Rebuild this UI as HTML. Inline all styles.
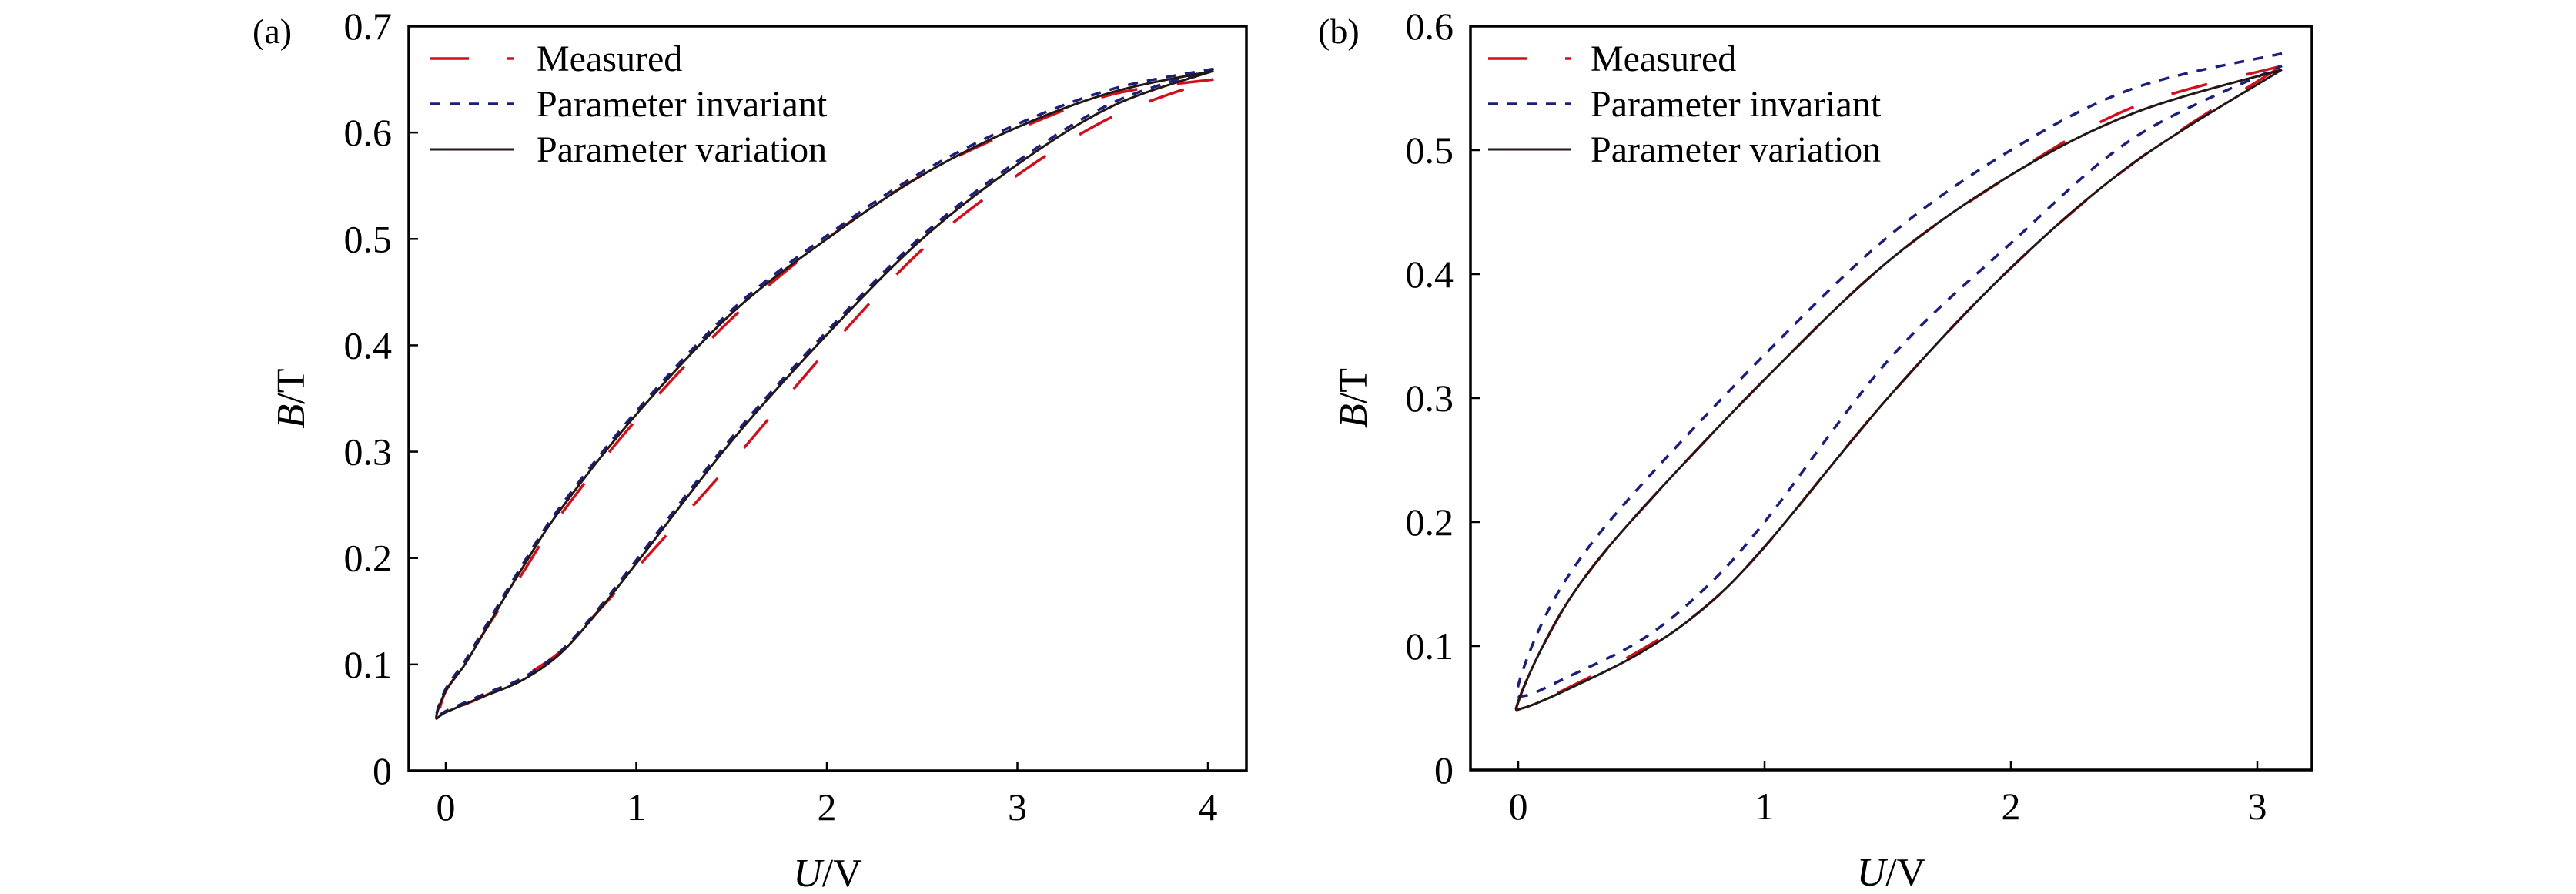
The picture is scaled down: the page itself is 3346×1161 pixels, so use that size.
<!DOCTYPE html>
<html><head><meta charset="utf-8"><style>
html,body{margin:0;padding:0;background:#fff;}
svg{display:block;}
text{font-family:"Liberation Serif",serif;fill:#000;}
</style></head><body>
<svg id="chart" width="3346" height="1161" viewBox="0 0 3346 1161"></svg>
<script>
// ---- Panel (a) data ----
const aTicksX = [0,1,2,3,4];
const aTicksY = [0,0.1,0.2,0.3,0.4,0.5,0.6,0.7];
const aVarU = [4.03,3.5,3.0,2.5,2.0,1.5,1.0,0.6,0.4,0.2,0.1,0.0,-0.05,0.0,0.2,0.4,0.6,0.8,1.0,1.5,2.0,2.5,3.0,3.5,4.03];
const aVarB = [0.658,0.638,0.605,0.56,0.50,0.43,0.335,0.245,0.19,0.13,0.10,0.075,0.05,0.055,0.07,0.085,0.11,0.15,0.195,0.31,0.41,0.50,0.57,0.625,0.658];
const aInvU = [4.03,3.5,3.0,2.5,2.0,1.5,1.0,0.6,0.4,0.2,0.1,0.0,-0.05,0.0,0.2,0.4,0.6,0.8,1.0,1.5,2.0,2.5,3.0,3.5,4.03];
const aInvB = [0.66,0.641,0.608,0.563,0.503,0.433,0.338,0.248,0.193,0.133,0.103,0.077,0.051,0.056,0.072,0.087,0.112,0.152,0.198,0.313,0.413,0.503,0.573,0.628,0.66];
const aMeaU = [4.03,3.5,3.0,2.5,2.0,1.5,1.0,0.6,0.4,0.2,0.1,0.0,-0.04,0.0,0.2,0.4,0.6,0.8,1.0,1.5,2.0,2.5,3.0,3.5,4.03];
const aMeaB = [0.65,0.636,0.603,0.56,0.50,0.425,0.33,0.24,0.185,0.13,0.10,0.075,0.05,0.055,0.07,0.088,0.112,0.15,0.19,0.29,0.395,0.49,0.56,0.615,0.65];
// ---- Panel (b) data ----
const bTicksX = [0,1,2,3];
const bTicksY = [0,0.1,0.2,0.3,0.4,0.5,0.6];
const bVarU = [3.1,2.5,2.0,1.5,1.0,0.5,0.25,0.1,0.0,0.02,0.2,0.5,0.75,1.0,1.5,2.0,2.5,3.1];
const bVarB = [0.565,0.53,0.48,0.41,0.315,0.21,0.15,0.10,0.055,0.05,0.065,0.095,0.13,0.18,0.30,0.405,0.49,0.565];
const bInvU = [3.1,2.5,2.0,1.5,1.0,0.5,0.25,0.1,0.0,0.03,0.2,0.5,0.75,1.0,1.5,2.0,2.5,3.1];
const bInvB = [0.578,0.55,0.50,0.43,0.335,0.23,0.17,0.12,0.068,0.06,0.075,0.105,0.145,0.20,0.33,0.425,0.51,0.568];
const bMeaU = [3.1,2.5,2.0,1.5,1.0,0.5,0.25,0.1,0.0,0.02,0.2,0.5,0.75,1.0,1.5,2.0,2.5,3.1];
const bMeaB = [0.568,0.535,0.48,0.41,0.315,0.21,0.15,0.10,0.055,0.05,0.066,0.097,0.13,0.18,0.30,0.405,0.49,0.568];

const NS = "http://www.w3.org/2000/svg";
const svg = document.getElementById('chart');
function mk(tag, attrs, parent){const e=document.createElementNS(NS,tag);for(const k in attrs)e.setAttribute(k,attrs[k]);(parent||svg).appendChild(e);return e;}

function smoothPath(pts){
  let d = `M${pts[0][0].toFixed(1)},${pts[0][1].toFixed(1)}`;
  for(let i=0;i<pts.length-1;i++){
    const p0=pts[Math.max(0,i-1)],p1=pts[i],p2=pts[i+1],p3=pts[Math.min(pts.length-1,i+2)];
    const c1=[p1[0]+(p2[0]-p0[0])/6,p1[1]+(p2[1]-p0[1])/6];
    const c2=[p2[0]-(p3[0]-p1[0])/6,p2[1]-(p3[1]-p1[1])/6];
    d+=`C${c1[0].toFixed(1)},${c1[1].toFixed(1)} ${c2[0].toFixed(1)},${c2[1].toFixed(1)} ${p2[0].toFixed(1)},${p2[1].toFixed(1)}`;
  }
  return d;
}

function panel(cfg){
  const g = mk('g',{});
  
  
  const X = v => cfg.x0px + v * cfg.xUnit;
  const Y = v => cfg.bottom - (v / cfg.yMax) * (cfg.bottom - cfg.yTopPx);
  const series = [
    {u:cfg.mU,b:cfg.mB,stroke:'#d0101c',w:3.5,dash:'48 52',name:'measured-curve'},
    {u:cfg.iU,b:cfg.iB,stroke:'#1c1f7a',w:3.5,dash:'13 12',name:'parameter-invariant-curve'},
    {u:cfg.vU,b:cfg.vB,stroke:'#231815',w:3,dash:'',name:'parameter-variation-curve'}
  ];
  for(const s of series){
    const pts = s.u.map((u,i)=>[X(u),Y(s.b[i])]);
    const p = mk('path',{d:smoothPath(pts),fill:'none',stroke:s.stroke,'stroke-width':s.w,'stroke-dasharray':s.dash,'stroke-linejoin':'round'},g);
    
    
  }
  const fr = mk('rect',{x:cfg.left,y:cfg.top,width:cfg.right-cfg.left,height:cfg.bottom-cfg.top,fill:'none',stroke:'#000','stroke-width':3.5},g);
  
  
  for(const t of cfg.tx){
    const x=X(t);
    const tk=mk('line',{x1:x,x2:x,y1:cfg.bottom,y2:cfg.bottom-12,stroke:'#000','stroke-width':2.5},g);
    
    
    const tl=mk('text',{x:x,y:cfg.bottom+64,'font-size':50,'text-anchor':'middle'},g);
    tl.textContent=String(t);
    
    
  }
  for(const t of cfg.ty){
    const y=Y(t);
    const tk=mk('line',{x1:cfg.left,x2:cfg.left+12,y1:y,y2:y,stroke:'#000','stroke-width':2.5},g);
    
    
    const tl=mk('text',{x:cfg.left-22,y:y+17,'font-size':50,'text-anchor':'end'},g);
    tl.textContent=t===0?'0':t.toFixed(1);
    
    
  }
  const xt=mk('text',{x:(cfg.left+cfg.right)/2,y:cfg.bottom+150,'font-size':52,'text-anchor':'middle'},g);
  xt.innerHTML='<tspan font-style="italic">U</tspan>/V';
  
  
  const yt=mk('text',{x:0,y:0,'font-size':52,'text-anchor':'middle',transform:`translate(${cfg.ylabX},${(cfg.top+cfg.bottom)/2}) rotate(-90)`},g);
  yt.innerHTML='<tspan font-style="italic">B</tspan>/T';
  
  
  const pl=mk('text',{x:cfg.tagX,y:cfg.top+22,'font-size':46},g);
  pl.textContent=cfg.tag;
  
  
  const lg=mk('g',{},g);
  
  
  const items=[['Measured','#d0101c','50 50 10 50',3.5],['Parameter invariant','#1c1f7a','13 12',3.5],['Parameter variation','#231815','',3]];
  items.forEach((it,i)=>{
    const y=cfg.top+42+i*59;
    const ln=mk('line',{x1:cfg.legX1,x2:cfg.legX2,y1:y,y2:y,stroke:it[1],'stroke-width':it[3],'stroke-dasharray':it[2]},lg);
    
    
    const tx=mk('text',{x:cfg.legTx,y:y+16,'font-size':48},lg);
    tx.textContent=it[0];
    
    
  });
}

panel({name:'panel-a',tag:'(a)',tagX:328,left:531,right:1619,top:34,bottom:1001,yTopPx:34,yMax:0.7,
  x0px:579,xUnit:247.5,tx:aTicksX,ty:aTicksY,ylabX:395,legX1:559,legX2:668,legTx:697,
  mU:aMeaU,mB:aMeaB,iU:aInvU,iB:aInvB,vU:aVarU,vB:aVarB});
panel({name:'panel-b',tag:'(b)',tagX:1712,left:1910,right:3003,top:34,bottom:1000,yTopPx:34,yMax:0.6,
  x0px:1972,xUnit:320,tx:bTicksX,ty:bTicksY,ylabX:1775,legX1:1933,legX2:2041,legTx:2066,
  mU:bMeaU,mB:bMeaB,iU:bInvU,iB:bInvB,vU:bVarU,vB:bVarB});
</script>
</body></html>
